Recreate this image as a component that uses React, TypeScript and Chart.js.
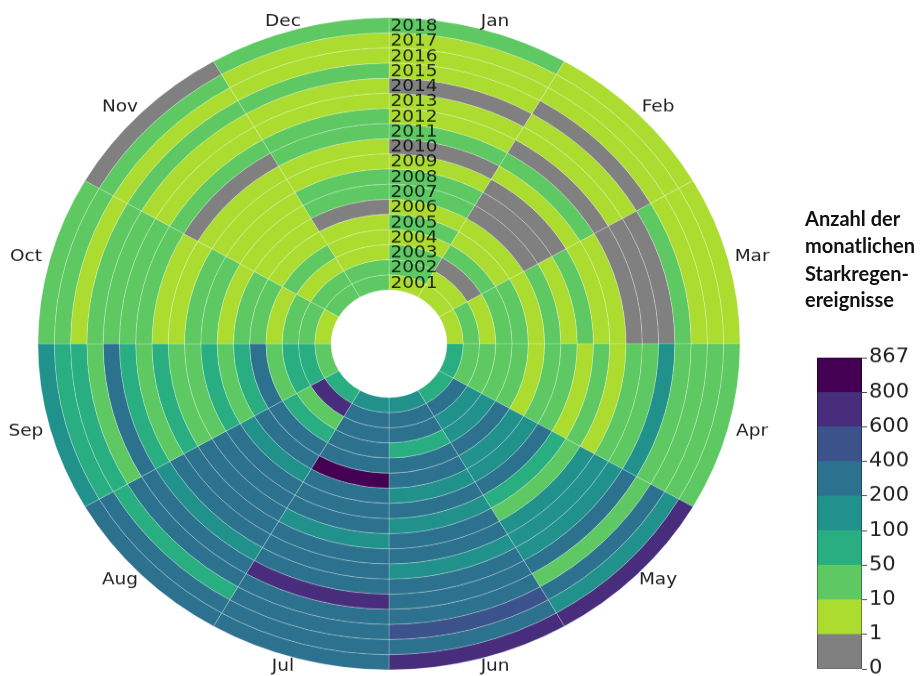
import React, { useEffect, useRef } from "react";
import { Chart, registerables } from "chart.js";

Chart.register(...registerables);

const MONTHS = ["Jan", "Feb", "Mar", "Apr", "May", "Jun", "Jul", "Aug", "Sep", "Oct", "Nov", "Dec"];
const YEARS = [2001, 2002, 2003, 2004, 2005, 2006, 2007, 2008, 2009, 2010, 2011, 2012, 2013, 2014, 2015, 2016, 2017, 2018];
const BIN_EDGES = [0, 1, 10, 50, 100, 200, 400, 600, 800, 867];
const BIN_COLORS = ["#808080", "#addc30", "#5ec962", "#28ae80", "#21918c", "#2c728e", "#3b528b", "#472d7b", "#440154"];
const COLORBAR_TICKS = ["0", "1", "10", "50", "100", "200", "400", "600", "800", "867"];

// monthly heavy-rain event counts (Jan..Dec), estimated from the colour classes
const c2001 = [5, 5, 5, 75, 75, 150, 150, 75, 25, 5, 25, 25];
const c2002 = [25, 5, 25, 25, 300, 300, 300, 700, 75, 25, 25, 25];
const c2003 = [25, 0, 5, 25, 150, 300, 300, 25, 75, 25, 5, 5];
const c2004 = [5, 25, 25, 25, 150, 75, 300, 75, 25, 5, 25, 5];
const c2005 = [25, 5, 25, 25, 300, 300, 300, 300, 300, 25, 5, 5];
const c2006 = [5, 5, 5, 5, 150, 300, 850, 300, 75, 25, 5, 0];
const c2007 = [25, 0, 25, 25, 150, 150, 300, 150, 25, 5, 5, 25];
const c2008 = [25, 0, 5, 25, 300, 300, 300, 300, 75, 25, 5, 25];
const c2009 = [5, 0, 25, 5, 75, 150, 300, 300, 25, 25, 5, 5];
const c2010 = [0, 5, 5, 25, 25, 300, 150, 300, 25, 5, 5, 5];
const c2011 = [25, 25, 5, 5, 150, 300, 300, 300, 75, 5, 0, 25];
const c2012 = [5, 0, 0, 25, 150, 150, 300, 300, 25, 25, 25, 25];
const c2013 = [5, 5, 0, 25, 150, 300, 300, 150, 75, 25, 5, 5];
const c2014 = [0, 5, 0, 150, 300, 300, 700, 300, 300, 25, 5, 5];
const c2015 = [5, 0, 25, 25, 25, 300, 300, 300, 25, 25, 25, 25];
const c2016 = [5, 5, 5, 25, 300, 500, 300, 75, 75, 5, 5, 5];
const c2017 = [5, 5, 5, 25, 150, 300, 300, 300, 75, 25, 25, 5];
const c2018 = [25, 5, 5, 25, 700, 700, 300, 300, 150, 25, 0, 25];
const COUNTS = [c2001, c2002, c2003, c2004, c2005, c2006, c2007, c2008, c2009, c2010, c2011, c2012, c2013, c2014, c2015, c2016, c2017, c2018];

const SQUISH = 0.929;
const PAGE_W = 920;
const PAGE_H = 728;

function binOf(v: number): number {
  let b = 0;
  for (let i = 1; i < BIN_EDGES.length - 1; i++) if (v >= BIN_EDGES[i]) b = i;
  return b;
}

const labelPlugin = {
  id: "polarLabels",
  afterDatasetsDraw(chart: any) {
    const ctx = chart.ctx;
    const outerMeta = chart.getDatasetMeta(0);
    const a0 = outerMeta.data[0];
    const cx = a0.x;
    const cy = a0.y;
    const R = a0.outerRadius;
    ctx.save();
    // month labels
    ctx.font = '18.5px "DejaVu Sans"';
    ctx.fillStyle = "#222";
    ctx.textAlign = "center";
    ctx.textBaseline = "middle";
    MONTHS.forEach((m, i) => {
      const ang = ((i + 0.5) * 30 * Math.PI) / 180;
      const s = Math.sin(ang);
      const c = Math.cos(ang);
      const x = cx + (R + 12.5) * s + Math.sign(s) * 12;
      const y = cy - (R + 7) * c - Math.sign(c) * 1.4;
      ctx.fillText(m, x, y);
    });
    // year labels along the top
    ctx.font = '18.5px "DejaVu Sans"';
    ctx.fillStyle = "rgba(0,0,0,0.82)";
    ctx.textAlign = "left";
    ctx.textBaseline = "middle";
    const n = chart.data.datasets.length;
    for (let d = 0; d < n; d++) {
      const arc = chart.getDatasetMeta(d).data[0];
      const rm = (arc.innerRadius + arc.outerRadius) / 2;
      ctx.fillText(String(chart.data.datasets[d].label), cx + 1.5, cy - rm + 1);
    }
    ctx.restore();
  },
};

const outlinePlugin = {
  id: "cbOutline",
  afterDraw(chart: any) {
    const { ctx, chartArea } = chart;
    ctx.save();
    ctx.strokeStyle = "rgba(0,0,0,0.35)";
    ctx.lineWidth = 1;
    ctx.strokeRect(chartArea.left + 0.5, chartArea.top + 0.5, chartArea.right - chartArea.left - 1, chartArea.bottom - chartArea.top - 1);
    ctx.restore();
  },
};

export default function App() {
  const polarRef = useRef<HTMLCanvasElement | null>(null);
  const cbRef = useRef<HTMLCanvasElement | null>(null);

  useEffect(() => {
    const datasets = YEARS.map((yr, i) => ({
      label: String(yr),
      data: MONTHS.map(() => 1),
      backgroundColor: COUNTS[i].map((v) => BIN_COLORS[binOf(v)]),
      borderColor: "rgba(255,255,255,0.3)",
      borderWidth: 0.8,
    })).reverse();

    const polar = new Chart(polarRef.current as HTMLCanvasElement, {
      type: "doughnut",
      data: { labels: MONTHS, datasets },
      options: {
        animation: false,
        responsive: false,
        events: [],
        radius: 351,
        cutout: (58 / 351) * 100 + "%",
        rotation: 0,
        layout: { padding: { left: 0, right: 142, top: 12, bottom: 0 } },
        plugins: { legend: { display: false }, tooltip: { enabled: false } },
      } as any,
      plugins: [labelPlugin],
    });

    const cb = new Chart(cbRef.current as HTMLCanvasElement, {
      type: "bar",
      data: {
        labels: [""],
        datasets: BIN_COLORS.map((c, i) => ({
          label: COLORBAR_TICKS[i],
          data: [1],
          backgroundColor: c,
          borderWidth: 0,
          barPercentage: 1,
          categoryPercentage: 1,
        })),
      },
      options: {
        animation: false,
        responsive: false,
        events: [],
        layout: { padding: { top: 20, bottom: 20, left: 0, right: 0 } },
        plugins: { legend: { display: false }, tooltip: { enabled: false } },
        scales: {
          x: { display: false, stacked: true },
          y: {
            stacked: true,
            position: "right",
            min: 0,
            max: 9,
            ticks: {
              stepSize: 1,
              autoSkip: false,
              padding: 2,
              color: "#222",
              font: { family: "DejaVu Sans", size: 21 },
              callback: (v: any) => COLORBAR_TICKS[Number(v)],
            },
            grid: { drawOnChartArea: false, drawTicks: true, tickLength: 5, color: "#444" },
            border: { display: false },
            afterFit: (s: any) => {
              s.width = 58;
            },
          },
        },
      } as any,
      plugins: [outlinePlugin],
    });

    return () => {
      polar.destroy();
      cb.destroy();
    };
  }, []);

  return (
    <div style={{ position: "fixed", left: 0, top: 0, width: PAGE_W, height: 676, overflow: "hidden", background: "#fff" }}>
      <div
        style={{
          position: "absolute",
          left: 0,
          top: 0,
          width: PAGE_W,
          height: PAGE_H,
          transform: `scaleY(${SQUISH})`,
          transformOrigin: "0 0",
        }}
      >
        <canvas ref={polarRef} width={PAGE_W} height={PAGE_H} style={{ position: "absolute", left: 0, top: 0 }} />
        <div
          style={{
            position: "absolute",
            left: 805,
            top: 220,
            fontFamily: "Lato, 'Open Sans', sans-serif",
            fontWeight: 700,
            fontSize: 22.5,
            lineHeight: "29.4px",
            color: "#111",
            whiteSpace: "pre",
            transform: "scaleX(0.89)",
            transformOrigin: "0 0",
          }}
        >
          {"Anzahl der\nmonatlichen\nStarkregen-\nereignisse"}
        </div>
        <canvas ref={cbRef} width={103} height={375} style={{ position: "absolute", left: 817, top: 365 }} />
      </div>
    </div>
  );
}
